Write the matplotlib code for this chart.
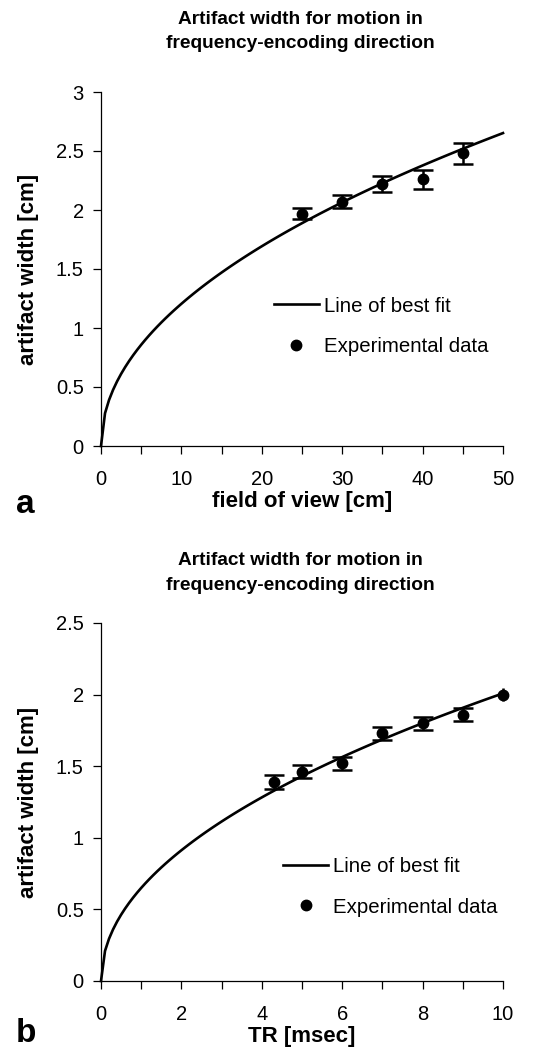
import numpy as np
import matplotlib
matplotlib.use('Agg')
import matplotlib.pyplot as plt
from matplotlib.lines import Line2D
from matplotlib.ticker import MultipleLocator

plt.rcParams['font.family'] = ['Liberation Sans', 'DejaVu Sans']

# panel a: field of view
fov = [25, 30, 35, 40, 45]
fov_width = [1.97, 2.07, 2.22, 2.26, 2.48]
fov_err = [0.05, 0.056, 0.067, 0.078, 0.088]
fov_fit = (0.39, 0.49)      # width = a * fov**b

# panel b: TR
tr = [4.3, 5, 6, 7, 8, 9, 10]
tr_width = [1.39, 1.46, 1.52, 1.73, 1.80, 1.86, 2.00]
tr_err = [0.048, 0.045, 0.045, 0.047, 0.045, 0.046, 0.045]
tr_fit = (0.65, 0.49)

title = 'Artifact width for motion in\nfrequency-encoding direction'

fig = plt.figure(figsize=(5.48, 10.49), dpi=100)
ax1 = fig.add_axes([101/548, 1-446/1049, 402/548, 354/1049])
ax2 = fig.add_axes([101/548, 1-981/1049, 402/548, 358/1049])


def panel(ax, x, y, err, fit, xmax, xstep, xminor, ymax, xlabel, letter, letter_y, leg_xy, title_y):
    a, b = fit
    xx = np.arange(0, xmax + xstep / 2, xstep)
    ax.plot(xx, a * xx**b, color='black', lw=1.9, clip_on=False, zorder=2)
    # last point in panel b has no caps (sits on the axis edge)
    n = len(x) if x[-1] < xmax else len(x) - 1
    ax.errorbar(x[:n], y[:n], yerr=err[:n], fmt='o', color='black', ms=7.5,
                capsize=7, capthick=1.8, elinewidth=1.8, clip_on=False, zorder=3)
    if n < len(x):
        ax.errorbar(x[n:], y[n:], yerr=err[n:], fmt='o', color='black', ms=7.5,
                    capsize=0, elinewidth=1.8, clip_on=False, zorder=3)

    ax.set_xlim(0, xmax)
    ax.set_ylim(0, ymax)
    ax.set_yticks(np.arange(0, ymax + 0.01, 0.5))
    ax.set_yticklabels([f'{v:g}' for v in np.arange(0, ymax + 0.01, 0.5)])
    ax.xaxis.set_major_locator(MultipleLocator(xmax / 5))
    ax.xaxis.set_minor_locator(MultipleLocator(xminor))
    for s in ['top', 'right']:
        ax.spines[s].set_visible(False)
    for s in ['left', 'bottom']:
        ax.spines[s].set_linewidth(0.9)
    ax.tick_params(which='both', direction='out', length=5.5, width=0.9)
    ax.tick_params(axis='x', labelsize=14.5, pad=12)
    ax.tick_params(axis='y', labelsize=14.5, pad=7)

    ax.set_xlabel(xlabel, fontsize=16, fontweight='bold', labelpad=1)
    ax.set_ylabel('artifact width [cm]', fontsize=16, fontweight='bold', labelpad=12)
    fig.text(0.548, title_y, title, fontsize=13.8, fontweight='bold',
             ha='center', va='center', linespacing=1.55)
    fig.text(16/548, letter_y, letter, fontsize=24, fontweight='bold',
             ha='left', va='baseline')

    handles = [Line2D([], [], color='black', lw=1.9),
               Line2D([], [], color='black', marker='o', ls='none', ms=7.5)]
    ax.legend(handles, ['Line of best fit', 'Experimental data'],
              loc='center left', bbox_to_anchor=leg_xy, frameon=False,
              fontsize=14.7, handlelength=2.2, handletextpad=0.25,
              labelspacing=1.05, borderpad=0, borderaxespad=0)


panel(ax1, fov, fov_width, fov_err, fov_fit, 50, 0.5, 5, 3,
      'field of view [cm]', 'a', 1 - 513/1049, (0.43, 0.338), 1 - 31.5/1049)
panel(ax2, tr, tr_width, tr_err, tr_fit, 10, 0.1, 1, 2.5,
      'TR [msec]', 'b', 1 - 1042/1049, (0.453, 0.263), 1 - 573/1049)

plt.savefig('out.png', dpi=100)
